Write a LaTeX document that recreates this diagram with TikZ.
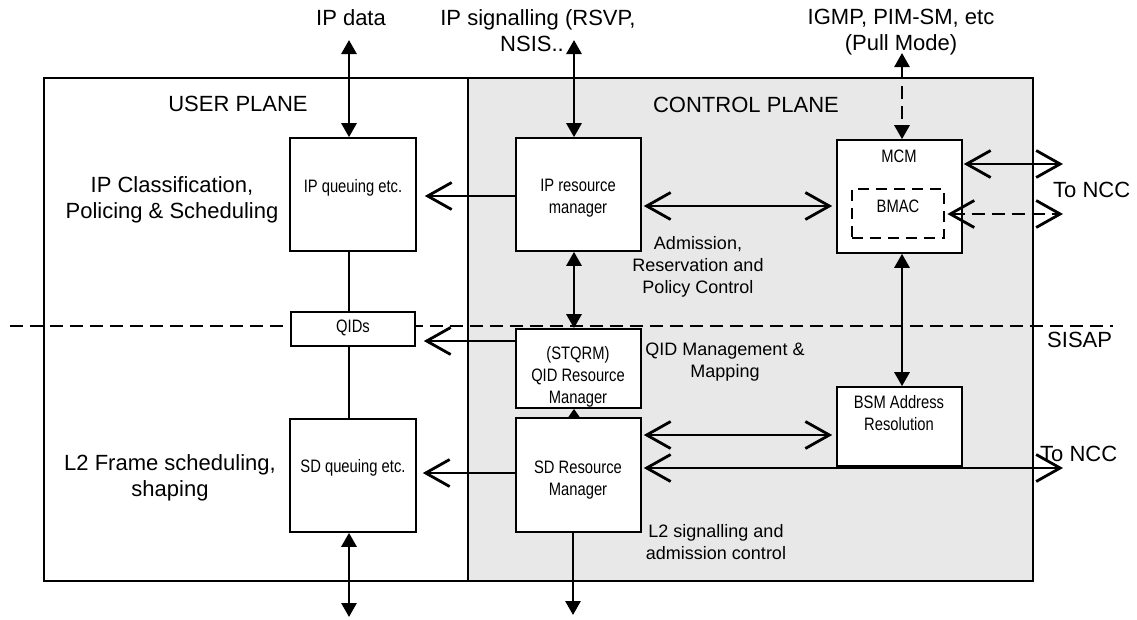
\documentclass[tikz,border=0pt]{standalone}
\usepackage{fontspec}
\setmainfont{Liberation Sans}
\newfontfamily\narrowfont[FakeStretch=0.82]{Liberation Sans}
\usetikzlibrary{arrows.meta}
\definecolor{cpgray}{RGB}{232,232,232}
\newcommand\boxfont{\narrowfont\fontsize{18}{22}\selectfont}
\begin{document}
\begin{tikzpicture}[x=1pt,y=-1pt,
  frame/.style={draw, line width=2pt},
  box/.style={draw, line width=1.6pt, fill=white, inner sep=0pt},
  btxt/.style={font=\boxfont, align=center, inner sep=0pt},
  lbl/.style={font=\fontsize{22}{26}\selectfont, align=center, inner sep=0pt},
  ann/.style={font=\fontsize{18}{22}\selectfont, align=center, inner sep=0pt},
  thinline/.style={line width=1.5pt},
  dashline/.style={dash pattern=on 13pt off 7pt},
  vboth/.style={line width=2.8pt, {Triangle[length=14pt,width=15pt]}-{Triangle[length=14pt,width=15pt]}},
  vone/.style={line width=2.8pt, -{Triangle[length=14pt,width=15pt]}},
  hboth/.style={line width=2.8pt, {Straight Barb[length=24pt,width=27pt]}-{Straight Barb[length=24pt,width=27pt]}},
  hone/.style={line width=2.8pt, -{Straight Barb[length=24pt,width=27pt]}}
]
\useasboundingbox (0,0) rectangle (1137,619);

% planes
\path[frame, fill=white] (44,78) rectangle (468,581);
\path[frame, fill=cpgray] (468,78) rectangle (1033,581);

% SISAP line
\coordinate (sisapL) at (10,326);
\coordinate (sisapR) at (1113,326);
\draw[line width=2.5pt, dashline] (sisapL) -- (sisapR);

% boxes
\node[box, minimum width=126pt, minimum height=113pt] (ipq) at (353,194.5) {};
\node[box, minimum width=125pt, minimum height=113pt] (iprm) at (578.5,194.5) {};
\node[box, minimum width=125pt, minimum height=113pt] (mcm) at (899.5,196.5) {};
\node[draw, line width=2.8pt, dash pattern=on 11pt off 7pt, minimum width=92pt, minimum height=49pt, inner sep=0pt] (bmac) at (898,213.5) {};
\node[box, minimum width=124pt, minimum height=34pt] (qids) at (353,329) {};
\node[box, minimum width=125pt, minimum height=79pt] (stqrm) at (578.5,368.5) {};
\node[box, minimum width=125pt, minimum height=79pt] (bsm) at (899.5,426.5) {};
\node[box, minimum width=126pt, minimum height=113pt] (sdq) at (353,475.5) {};
\node[box, minimum width=125pt, minimum height=114pt] (sdrm) at (578.5,475) {};

% box texts
\node[btxt] (ipqt) at (353,188) {IP queuing etc.};
\node[btxt] (iprmt) at (578,198) {IP resource\\manager};
\node[btxt] (mcmt) at (899,156) {MCM};
\node[btxt] (bmact) at (898,206) {BMAC};
\node[btxt] (qidst) at (353,328) {QIDs};
\node[btxt] (stqrmt) at (578,377) {(STQRM)\\QID Resource\\Manager};
\node[btxt] (sdqt) at (353,468) {SD queuing etc.};
\node[btxt] (sdrmt) at (578,480) {SD Resource\\Manager};
\node[btxt] (bsmt) at (899,413) {BSM Address\\Resolution};

% labels
\node[lbl] (tipdata) at (351,18) {IP data};
\node[lbl] (tipsig) at (538,31) {IP signalling (RSVP,\\NSIS..\hspace*{12pt}};
\node[lbl] (tigmp) at (901,32) {IGMP, PIM-SM, etc\\(Pull Mode)};
\node[lbl] (tuser) at (238,104) {USER PLANE};
\node[lbl] (tctrl) at (746,105) {CONTROL PLANE};
\node[lbl] (tipcl) at (172,200) {IP Classification,\\Policing \& Scheduling};
\node[lbl] (tl2f) at (170,478) {L2 Frame scheduling,\\shaping};
\node[ann] (tadm) at (698,267) {Admission,\\Reservation and\\Policy Control};
\node[ann] (tqid) at (725,362) {QID Management \&\\Mapping};
\node[ann] (tl2s) at (716,542) {L2 signalling and\\admission control};
\node[lbl, anchor=west] (tsisap) at (1047,340) {SISAP};
\node[lbl, anchor=west] (tncc1) at (1053,190) {To NCC};
\node[lbl, anchor=west] (tncc2) at (1040,454) {To NCC};

% coordinates
\coordinate (ipdtop) at (349,40);
\coordinate (ipsigtop) at (574,40);
\coordinate (igmptop) at (902,53);
\coordinate (ipdbot) at (349,617);
\coordinate (sdrmbot) at (573,615);
\coordinate (ncc1) at (1063,164);
\coordinate (ncc2) at (1063,214);
\coordinate (ncc3) at (1063,468);
\coordinate (y196) at (0,196);
\coordinate (y206) at (0,206);
\coordinate (y341) at (0,341);
\coordinate (y473) at (0,473);
\coordinate (y435) at (0,435);

% vertical connectors
\draw[vboth] (ipdtop) -- (ipdtop |- ipq.north);
\draw[vboth] (ipsigtop) -- (ipsigtop |- iprm.north);
\draw[vboth, dashline] (igmptop) -- (igmptop |- mcm.north);
\draw[vboth] (iprm.south -| ipsigtop) -- (stqrm.north -| ipsigtop);
\draw[line width=2.8pt, -{Triangle[length=10pt,width=13pt]}] (sdrm.north -| ipsigtop) -- (stqrm.south -| ipsigtop);
\draw[vboth] (mcm.south -| igmptop) -- (bsm.north -| igmptop);
\draw[vboth] (sdq.south -| ipdtop) -- (ipdbot);
\draw[vone] (sdrm.south -| sdrmbot) -- (sdrmbot);
\draw[thinline] (ipq.south -| ipdtop) -- (qids.north -| ipdtop);
\draw[thinline] (qids.south -| ipdtop) -- (sdq.north -| ipdtop);

% horizontal connectors
\draw[hone, shorten >=8pt] (iprm.west |- y196) -- (ipq.east |- y196);
\draw[hboth, shorten <=2pt, shorten >=4pt] (iprm.east |- y206) -- (mcm.west |- y206);
\draw[hboth, shorten <=1pt] (mcm.east |- ncc1) -- (ncc1);
\draw[hboth, dashline, shorten <=2pt] (bmac.east |- ncc2) -- (ncc2);
\draw[hone, shorten >=8pt] (stqrm.west |- y341) -- (qids.east |- y341);
\draw[hone, shorten >=6pt] (sdrm.west |- y473) -- (sdq.east |- y473);
\draw[hboth, shorten <=2pt, shorten >=4pt] (sdrm.east |- y435) -- (bsm.west |- y435);
\draw[hboth, shorten <=2pt] (sdrm.east |- ncc3) -- (ncc3);
\end{tikzpicture}
\end{document}
